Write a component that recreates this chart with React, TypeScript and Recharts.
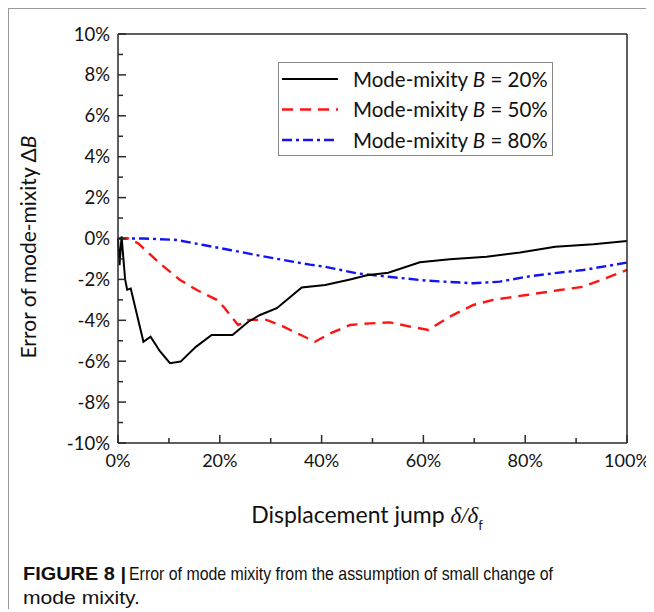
import React from 'react';
import { LineChart, Line, XAxis, YAxis, Legend } from 'recharts';

// ---- Data (values in percent) ----
const xB20 = [0, 0.3, 0.7, 1.4, 1.8, 2.5, 5.0, 6.4, 8.2, 10.2, 12.3, 15.3, 18.4, 22.5, 25.6, 27.9, 31.2, 36.1, 40.7, 45.6, 48.9, 53.1, 59.3, 65.2, 72.4, 79.0, 85.9, 93.4, 100];
const yB20 = [0, -1.3, 0.1, -2.0, -2.5, -2.45, -5.05, -4.8, -5.5, -6.1, -6.02, -5.3, -4.72, -4.72, -4.07, -3.74, -3.41, -2.4, -2.27, -2.0, -1.8, -1.67, -1.16, -1.02, -0.89, -0.69, -0.4, -0.28, -0.12];

const xB50 = [0, 2.0, 4.0, 8.2, 12.2, 15.5, 19.4, 20.7, 23.6, 25.6, 29.2, 32.5, 38.7, 41.7, 45.6, 49.5, 53.4, 57.4, 61.0, 65.2, 69.8, 73.7, 80.3, 86.8, 91.4, 100];
const yB50 = [0, 0, -0.24, -1.21, -2.03, -2.52, -3.0, -3.33, -4.23, -3.98, -3.98, -4.31, -5.05, -4.64, -4.23, -4.15, -4.1, -4.31, -4.47, -3.82, -3.25, -3.0, -2.76, -2.52, -2.36, -1.54];

const xB80 = [0, 5, 11.5, 16.8, 22, 27.2, 32.5, 37.7, 40.7, 46.9, 53.1, 60.6, 69.8, 75, 80.3, 85.5, 91.4, 100];
const yB80 = [0, 0, -0.07, -0.32, -0.56, -0.81, -1.05, -1.28, -1.38, -1.7, -1.87, -2.06, -2.19, -2.11, -1.87, -1.7, -1.54, -1.18];

const xTicks = [0, 10, 20, 30, 40, 50, 60, 70, 80, 90, 100];
const yTicks = [-10, -9, -8, -7, -6, -5, -4, -3, -2, -1, 0, 1, 2, 3, 4, 5, 6, 7, 8, 9, 10];
const legendValues = ['20%', '50%', '80%'];

const toRows = (xs: number[], ys: number[]) => xs.map((x, i) => ({ x, y: ys[i] }));
const d20 = toRows(xB20, yB20);
const d50 = toRows(xB50, yB50);
const d80 = toRows(xB80, yB80);

const AXIS = '#2a2a2a';
const FONT = 'Lato, "Open Sans", sans-serif';
const CAPFONT = '"Liberation Sans Narrow", "Liberation Sans", Arial, sans-serif';
const RED = '#ff1414';
const BLUE = '#1414f0';

const styles = [
  { stroke: '#000', dash: undefined as string | undefined, width: 2 },
  { stroke: RED, dash: '11 7', width: 2.4 },
  { stroke: BLUE, dash: '10 4 3 4', width: 2.4 },
];

const LeftTick = (props: any) => {
  const { x, y, payload } = props;
  const v = payload.value;
  const major = v % 2 === 0;
  return (
    <g>
      <line x1={x} x2={x + (major ? 8 : 5)} y1={y} y2={y} stroke={AXIS} strokeWidth={1.5} />
      {major && (
        <text x={x - 8} y={y} dy={6.5} textAnchor="end" fontSize={18.5} fontFamily={FONT} fill="#111">
          {v}%
        </text>
      )}
    </g>
  );
};

const RightTick = (props: any) => {
  const { x, y, payload } = props;
  const major = payload.value % 2 === 0;
  return <line x1={x - (major ? 8 : 5)} x2={x} y1={y} y2={y} stroke={AXIS} strokeWidth={1.5} />;
};

const BottomTick = (props: any) => {
  const { x, y, payload } = props;
  const v = payload.value;
  const major = v % 20 === 0;
  return (
    <g>
      <line x1={x} x2={x} y1={y} y2={y - (major ? 8 : 5)} stroke={AXIS} strokeWidth={1.5} />
      {major && (
        <text x={x} y={y + 24} textAnchor="middle" fontSize={18} fontFamily={FONT} fill="#111">
          {v}%
        </text>
      )}
    </g>
  );
};

const YTitle = (props: any) => {
  const vb = props.viewBox;
  const cx = vb.x + 27;
  const cy = vb.y + vb.height / 2 + 8.5;
  return (
    <text transform={`rotate(-90, ${cx}, ${cy})`} x={cx} y={cy} textAnchor="middle" fontSize={21} fontFamily={FONT} fill="#111">
      Error of mode-mixity Δ<tspan fontStyle="italic">B</tspan>
    </text>
  );
};

const XTitle = (props: any) => {
  const vb = props.viewBox;
  const cx = vb.x + vb.width / 2 - 5.5;
  const by = vb.y + 80;
  return (
    <text x={cx} y={by} textAnchor="middle" fontSize={23} fontFamily={FONT} fill="#111">
      Displacement jump{' '}
      <tspan fontFamily='"Liberation Serif", serif' fontStyle="italic">δ/δ</tspan>
      <tspan fontFamily={FONT} fontSize={13} dy={7}>f</tspan>
    </text>
  );
};

const LegendBox = () => (
  <svg width={276} height={95} style={{ display: 'block' }}>
    <rect x={0.5} y={0.5} width={274} height={93} fill="#fff" stroke="#888" strokeWidth={1} />
    {legendValues.map((val, i) => {
      const cy = 17 + i * 30.5;
      const s = styles[i];
      return (
        <g key={val}>
          <line x1={4} x2={60} y1={cy} y2={cy} stroke={s.stroke} strokeWidth={s.width} strokeDasharray={s.dash} />
          <text x={75} y={cy + 7.5} fontSize={20.5} fontFamily={FONT} fill="#111">
            Mode-mixity <tspan fontStyle="italic">B</tspan> = {val}
          </text>
        </g>
      );
    })}
  </svg>
);

export default function App() {
  return (
    <div
      style={{
        position: 'relative',
        width: 645,
        height: 600,
        borderTop: '1px solid #999',
        borderLeft: '1px solid #999',
        background: '#fff',
      }}
    >
      <style>{`html { overflow: hidden; }`}</style>
      <LineChart width={645} height={540} margin={{ top: 24, right: 26, bottom: 0, left: 0 }}>
        <XAxis
          xAxisId="bottom"
          dataKey="x"
          type="number"
          domain={[0, 100]}
          ticks={xTicks}
          interval={0}
          height={106}
          tickSize={0}
          tickMargin={0}
          tickLine={false}
          tick={<BottomTick />}
          axisLine={{ stroke: AXIS, strokeWidth: 1.5 }}
          label={<XTitle />}
        />
        <XAxis
          xAxisId="top"
          orientation="top"
          dataKey="x"
          type="number"
          domain={[0, 100]}
          height={1}
          tick={false}
          tickLine={false}
          axisLine={{ stroke: AXIS, strokeWidth: 1.5 }}
        />
        <YAxis
          yAxisId="left"
          type="number"
          domain={[-10, 10]}
          ticks={yTicks}
          interval={0}
          width={109}
          tickSize={0}
          tickMargin={0}
          tickLine={false}
          tick={<LeftTick />}
          axisLine={{ stroke: AXIS, strokeWidth: 1.5 }}
          label={<YTitle />}
        />
        <YAxis
          yAxisId="right"
          orientation="right"
          type="number"
          domain={[-10, 10]}
          ticks={yTicks}
          interval={0}
          width={1}
          tickSize={0}
          tickMargin={0}
          tickLine={false}
          tick={<RightTick />}
          axisLine={{ stroke: AXIS, strokeWidth: 1.5 }}
        />
        <Legend
          layout="horizontal"
          verticalAlign="middle"
          align="center"
          wrapperStyle={{ top: 53, left: 269, width: 276, height: 95 }}
          content={<LegendBox />}
        />
        <Line xAxisId="bottom" yAxisId="left" data={d80} dataKey="y" stroke={BLUE} strokeWidth={2.4} strokeDasharray="10 4 3 4" dot={false} isAnimationActive={false} />
        <Line xAxisId="bottom" yAxisId="left" data={d50} dataKey="y" stroke={RED} strokeWidth={2.4} strokeDasharray="11 7" dot={false} isAnimationActive={false} />
        <Line xAxisId="bottom" yAxisId="left" data={d20} dataKey="y" stroke="#000" strokeWidth={2} dot={false} isAnimationActive={false} />
      </LineChart>
      <svg width={645} height={60} style={{ position: 'absolute', left: 0, top: 540, overflow: 'visible' }}>
        <text x={14} y={31} fontSize={19} fontWeight="bold" fontFamily={CAPFONT} fill="#111" textLength={103} lengthAdjust="spacingAndGlyphs">
          FIGURE 8 |
        </text>
        <text x={120} y={31} fontSize={19} fontFamily={CAPFONT} fill="#111" textLength={424} lengthAdjust="spacingAndGlyphs">
          Error of mode mixity from the assumption of small change of
        </text>
        <text x={14} y={55} fontSize={19} fontFamily={CAPFONT} fill="#111" textLength={117} lengthAdjust="spacingAndGlyphs">
          mode mixity.
        </text>
      </svg>
    </div>
  );
}
